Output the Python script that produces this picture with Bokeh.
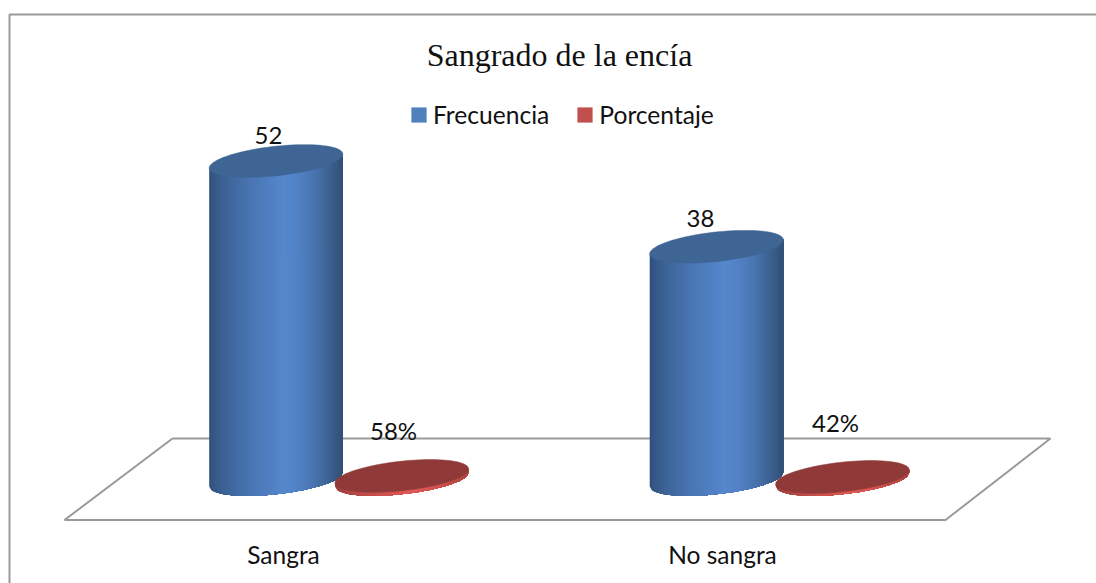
import numpy as np
from bokeh.plotting import figure
from bokeh.embed import file_html
from bokeh.resources import INLINE
from bokeh.core.properties import value
from bokeh.models import Range1d, Legend, LegendItem, FixedTicker

title_text = "Sangrado de la encía"
categories = ["Sangra", "No sangra"]
series_names = ["Frecuencia", "Porcentaje"]
frecuencia = [52, 38]
porcentaje = [0.58, 0.42]
porcentaje_labels = ["58%", "42%"]

# layout (page pixels)
BASE_PX = 479.0
UNIT_PX = 6.125
BLUE_X = [275.5, 716.0]
RED_X = [401.3, 842.0]
LABEL_X = [283.0, 722.0]
HALF_W = 66.8
HALF_H = 14.8
SHEAR = 7.0
FONT = "Lato"
GREY = "#9a9a9a"


def uy(px):
    return (BASE_PX - px) / UNIT_PX


def du(px):
    return px / UNIT_PX


p = figure(width=1096, height=583, output_backend="svg", toolbar_location=None,
           x_range=Range1d(0, 1096), y_range=Range1d(uy(583), uy(0)),
           min_border=0, min_border_left=0, min_border_right=0,
           min_border_top=0, min_border_bottom=0)
p.grid.visible = False
p.yaxis.visible = False
p.outline_line_color = None
p.background_fill_color = "white"
p.border_fill_color = "white"

# category axis
ax = p.xaxis[0]
ax.fixed_location = uy(532)
ax.ticker = FixedTicker(ticks=LABEL_X)
ax.major_label_overrides = {LABEL_X[i]: categories[i] for i in range(2)}
ax.axis_line_color = None
ax.major_tick_line_color = None
ax.minor_tick_line_color = None
ax.major_label_text_font = FONT
ax.major_label_text_font_size = "24.5px"
ax.major_label_text_color = "#111111"
ax.major_label_standoff = 1

# chart frame (top and left only)
p.line([9, 9, 1096], [uy(583), uy(14), uy(14)], line_color=GREY, line_width=2)

# floor
fx = [172, 1050, 945, 64, 172]
fy = [uy(438), uy(438), uy(519.5), uy(519.5), uy(438)]
p.line(fx, fy, line_color=GREY, line_width=2)


def ellipse_points(cx, cy_u, n=90):
    t = np.linspace(0, 2 * np.pi, n)
    dx = HALF_W * np.cos(t)
    return cx + dx, cy_u + du(HALF_H) * np.sin(t) + du(SHEAR) * dx / HALF_W


def lerp(c1, c2, f):
    c = [round(a + (b - a) * f) for a, b in zip(c1, c2)]
    return "#%02x%02x%02x" % tuple(c)


def ramp(f, dark_l, mid, dark_r, peak=0.56):
    if f < peak:
        return lerp(dark_l, mid, (f / peak) ** 0.65)
    return lerp(mid, dark_r, ((f - peak) / (1 - peak)) ** 1.6)


# flat series bars: carry the legend swatches and the data
CORE_W = 30
blue_bar = p.vbar(x=BLUE_X, top=frecuencia, bottom=0, width=CORE_W,
                  fill_color="#4F81BD", line_color=None)
red_bar = p.vbar(x=RED_X, top=porcentaje, bottom=0, width=CORE_W,
                 fill_color="#C0504D", line_color=None)


def cylinder(cx, val, dark_l, mid, dark_r, top_color, n=66):
    # painter's order: each band runs to the right end, so no seams show
    edges = np.linspace(-HALF_W, HALF_W, n + 1)
    xs, ys, cols = [], [], []
    for i in range(n):
        a = np.linspace(edges[i], HALF_W, max(n - i, 2) + 1)
        arc = du(HALF_H) * np.sqrt(np.clip(1 - (a / HALF_W) ** 2, 0, 1))
        line = du(SHEAR) * a / HALF_W
        low = line - arc
        up = val + line - 0.5 * arc
        xs.append(list(cx + a) + list(cx + a[::-1]))
        ys.append(list(low) + list(up[::-1]))
        cols.append(ramp((i + 0.5) / n, dark_l, mid, dark_r))
    p.patches(xs, ys, fill_color=cols, line_color=None)
    ex, ey = ellipse_points(cx, val)
    p.patch(ex, ey, fill_color=top_color, line_color=top_color, line_width=0.5)


BL_L, BL_M, BL_R = (46, 78, 120), (85, 135, 205), (48, 78, 115)
RD_L, RD_M, RD_R = (150, 60, 58), (222, 88, 84), (170, 66, 62)

for i in range(2):
    cylinder(BLUE_X[i], frecuencia[i], BL_L, BL_M, BL_R, "#3E6594")
for i in range(2):
    cylinder(RED_X[i], porcentaje[i], RD_L, RD_M, RD_R, "#8F3A38")

# data labels
p.text([268, 700], [uy(135), uy(218)], text=[str(v) for v in frecuencia],
       text_font=value(FONT), text_font_size="24px", text_color="#111111",
       text_align="center", text_baseline="middle")
p.text([393, 835], [uy(429.5), uy(421.5)], text=porcentaje_labels,
       text_font=value(FONT), text_font_size="24px", text_color="#111111",
       text_align="center", text_baseline="middle")

# title
p.text([559], [uy(54)], text=[title_text], text_font=value("Liberation Serif"),
       text_font_size="32px", text_color="#111111",
       text_align="center", text_baseline="middle")

# legend
legend = Legend(items=[LegendItem(label=series_names[0], renderers=[blue_bar]),
                       LegendItem(label=series_names[1], renderers=[red_bar])],
                orientation="horizontal", location=(409, 454),
                glyph_width=19, glyph_height=19, label_standoff=5, spacing=26,
                padding=0, margin=0, border_line_color=None, background_fill_alpha=0,
                label_text_font=FONT, label_text_font_size="24.6px", label_text_color="#111111",
                label_height=18)
p.add_layout(legend, "center")

open("out.html", "w").write(file_html(p, INLINE))
